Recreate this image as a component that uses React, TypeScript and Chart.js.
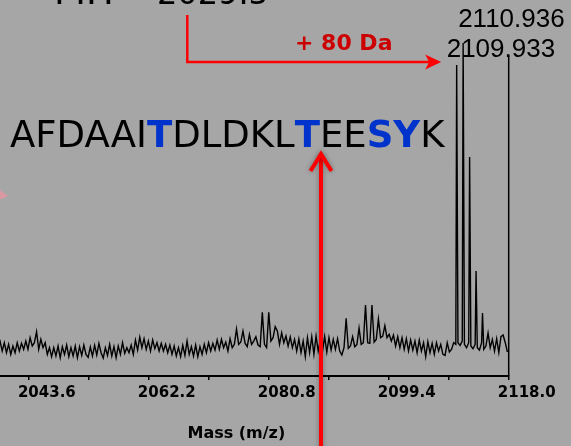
import React, { useEffect, useRef } from "react";
import { Chart, registerables } from "chart.js";

Chart.register(...registerables);

// ---------- data ----------
const X_MIN = 2033.55;
const X_MAX = 2118.0;
const Y_MAX = 100;
const MAJOR_TICKS = [2043.6, 2062.2, 2080.8, 2099.4, 2118.0];
const MINOR_TICKS = [2034.3, 2052.9, 2071.5, 2090.1, 2108.7];

// background spectrum sampled every 1/3 Da starting at 2038.8
const NOISE_MZ_START = 2038.8;
const NOISE_MZ_STEP = 1 / 3;
const NOISE = [
  9.5,
  10.5, 7.5, 10, 7, 9.5, 6.5, 9, 7, 10, 7.5, 9.8, 8,
  10.5, 8, 11.5, 9, 10, 13.3, 8, 11, 8.5, 10, 6.5, 8.5,
  5.8, 8.5, 6, 9, 5.5, 8.8, 6.5, 9.3, 5.8, 8.5, 6, 9,
  5.5, 8.8, 6.2, 9.3, 6.5, 5.6, 8.7, 6, 9.2, 6.3, 9.8, 7,
  5.4, 8.5, 6.2, 9.5, 6, 8.8, 5.5, 9, 6.5, 10, 6.8, 8.5,
  7, 9.3, 6.5, 10.8, 7.8, 11.7, 8.5, 11.2, 8, 10.5, 7.5, 10.8,
  8.2, 10, 7.5, 9.8, 7.5, 9.5, 7, 9.3, 6.5, 9, 6, 8.5,
  5.8, 9.2, 6.2, 10.5, 6.5, 8.8, 6, 9.3, 5.8, 8.8, 6.5, 9.5,
  7, 10, 7.5, 9.8, 7.8, 10.8, 8, 11, 8.5, 10.2, 7.5, 11.2,
  8.5, 9.5, 14.1, 9.5, 10.2, 13.5, 9.8, 8.8, 12.5, 9.5, 10.5, 11.8,
  9.3, 8.8, 19.1, 9.5, 8.5, 19.1, 10.5, 11.5, 14.8, 13.5, 9.5, 13,
  10, 12, 9, 11.7, 8.5, 11, 7.5, 11.1, 7, 10.5, 5.8, 11.5,
  7, 11.8, 6.5, 12, 7.5, 11, 7.5, 11.8, 7.2, 11.5, 7.8, 11,
  8, 11.2, 7.5, 6.3, 8.5, 17.3, 8.3, 9, 11.8, 8.8, 9.5, 14.4,
  9.5, 10, 21.3, 10, 9.8, 21.3, 10.2, 11, 17.1, 11.5, 12, 15.1,
  11.5, 12.5, 10.5, 12.3, 9, 11.8, 8.5, 11.5, 8, 11.2, 7.5, 10.8,
  7.8, 10.5, 7, 10.8, 7.5, 10, 5.8, 10.3, 7, 9.8, 6.5, 10,
  7.5, 9.5, 6.5, 6.2, 10, 7.2, 8, 10, 9.5, 10, 9.2, 10.5,
  9.5, 8.5, 10, 9, 8.2, 9.5, 8.5, 7.8, 10, 8, 9, 12.9,
  8.5, 11, 7.5, 11.2, 7, 11.8, 12.3, 10, 7.2,
];

// isotope envelope of the phosphopeptide
const PEAK_MZ = [2109.933, 2110.936, 2111.94, 2112.94, 2113.94];
const PEAK_INT = [93.4, 100, 65.8, 31.5, 18.9];
const PEAK_LABELS = ["2109.933", "2110.936"];
const FRAME_TOP = 96.4;

const SEQ_PARTS = ["AFDAAI", "T", "DLDKL", "T", "EE", "SY", "K"];
const SEQ_MOD = [false, true, false, true, false, true, false];
const PARENT_LABEL = "MH\u207A =";
const PARENT_MASS = "2029.5";
const SHIFT_LABEL = "+ 80 Da";
const X_TITLE = "Mass (m/z)";

// ---------- styles ----------
const BG = "#a6a6a6";
const BLUE = "#0033cc";
const RED = "#ff0000";
const DARK_RED = "#cc0000";
const SHIFT = 36; // canvas is shifted left by this many px (cropped plot)
const CW = 607;
const CH = 446;

function buildPoints() {
  const pts: { x: number; y: number }[] = [];
  NOISE.forEach((v, i) => pts.push({ x: NOISE_MZ_START + i * NOISE_MZ_STEP, y: v }));
  PEAK_MZ.forEach((m, i) => pts.push({ x: m, y: PEAK_INT[i] }));
  pts.sort((a, b) => a.x - b.x);
  return pts;
}

const bgPlugin = {
  id: "bgFill",
  beforeDraw(chart: any) {
    const { ctx, width, height } = chart;
    ctx.save();
    ctx.fillStyle = BG;
    ctx.fillRect(0, 0, width, height);
    ctx.restore();
  },
};

const annotPlugin = {
  id: "annotations",
  afterDraw(chart: any) {
    const { ctx } = chart;
    const xs = chart.scales.x;
    const ys = chart.scales.y;
    const S = SHIFT;
    ctx.save();

    // right frame line
    const xr = xs.getPixelForValue(X_MAX);
    ctx.strokeStyle = "#000";
    ctx.lineWidth = 1.5;
    ctx.beginPath();
    ctx.moveTo(xr, ys.getPixelForValue(FRAME_TOP));
    ctx.lineTo(xr, ys.getPixelForValue(0));
    ctx.stroke();

    // peak labels
    const p1 = xs.getPixelForValue(PEAK_MZ[0]);
    const p2 = xs.getPixelForValue(PEAK_MZ[1]);
    ctx.fillStyle = "#000";
    ctx.textAlign = "left";
    ctx.textBaseline = "alphabetic";
    ctx.font = '26px "Liberation Sans"';
    ctx.fillText(PEAK_LABELS[1], p2 - 5, 27);
    ctx.fillText(PEAK_LABELS[0], p1 - 10, 57);

    // parent ion (cropped at top)
    ctx.font = '37px "DejaVu Sans"';
    ctx.fillText(PARENT_LABEL, 54 + S, 4);
    ctx.font = '32px "DejaVu Sans"';
    ctx.fillText(PARENT_MASS, 157 + S, 4);

    // peptide sequence
    let x = 10 + S;
    SEQ_PARTS.forEach((part, i) => {
      ctx.font = (SEQ_MOD[i] ? "bold " : "") + '37px "DejaVu Sans"';
      ctx.fillStyle = SEQ_MOD[i] ? BLUE : "#000";
      ctx.fillText(part, x, 147);
      x += ctx.measureText(part).width;
    });

    // +80 Da label
    ctx.font = 'bold 22px "DejaVu Sans"';
    ctx.fillStyle = DARK_RED;
    ctx.fillText(SHIFT_LABEL, 295 + S, 50);

    // elbow arrow to the phospho peak
    const tip = p1 - 15.5;
    ctx.strokeStyle = RED;
    ctx.lineWidth = 2.5;
    ctx.lineJoin = "miter";
    ctx.beginPath();
    ctx.moveTo(187.3 + S, 15);
    ctx.lineTo(187.3 + S, 62);
    ctx.lineTo(tip - 12, 62);
    ctx.stroke();
    ctx.fillStyle = RED;
    ctx.beginPath();
    ctx.moveTo(tip, 62);
    ctx.lineTo(tip - 16, 54.5);
    ctx.lineTo(tip - 12, 62);
    ctx.lineTo(tip - 16, 69.5);
    ctx.closePath();
    ctx.fill();

    // faint arrow tip at left edge
    ctx.fillStyle = "rgba(225,150,160,0.85)";
    ctx.beginPath();
    ctx.moveTo(S - 8, 184);
    ctx.lineTo(S + 8, 196);
    ctx.lineTo(S - 8, 203);
    ctx.closePath();
    ctx.fill();

    // upward arrow to the phosphorylated T
    ctx.shadowColor = "rgba(0,0,0,0.35)";
    ctx.shadowBlur = 5;
    ctx.strokeStyle = RED;
    ctx.lineWidth = 4;
    ctx.beginPath();
    ctx.moveTo(321 + S, CH + 5);
    ctx.lineTo(321 + S, 155);
    ctx.stroke();
    ctx.beginPath();
    ctx.moveTo(310.5 + S, 171);
    ctx.lineTo(321 + S, 154);
    ctx.lineTo(331.5 + S, 171);
    ctx.stroke();

    ctx.restore();
  },
};

export default function App() {
  const ref = useRef<HTMLCanvasElement | null>(null);

  useEffect(() => {
    document.body.style.margin = "0";
    document.body.style.background = BG;
    if (!ref.current) return;
    const chart = new Chart(ref.current, {
      type: "line",
      data: {
        datasets: [
          {
            data: buildPoints(),
            borderColor: "#000",
            borderWidth: 1.4,
            pointRadius: 0,
            tension: 0,
            fill: false,
          },
        ],
      },
      options: {
        responsive: false,
        animation: false,
        devicePixelRatio: 1,
        parsing: false,
        layout: { padding: { top: 43, right: CW - 544.7, left: 0, bottom: 0 } },
        plugins: { legend: { display: false }, tooltip: { enabled: false } },
        scales: {
          x: {
            type: "linear",
            min: X_MIN,
            max: X_MAX,
            afterBuildTicks: (scale: any) => {
              scale.ticks = [...MAJOR_TICKS, ...MINOR_TICKS]
                .sort((a, b) => a - b)
                .map((v) => ({ value: v }));
            },
            afterFit: (scale: any) => {
              scale.height = 70;
            },
            grid: {
              display: true,
              drawOnChartArea: false,
              drawTicks: true,
              tickLength: 4,
              tickColor: "#000",
              lineWidth: 1.5,
            },
            border: { display: true, color: "#000", width: 2 },
            ticks: {
              autoSkip: false,
              maxRotation: 0,
              minRotation: 0,
              labelOffset: 18,
              padding: 4,
              color: "#000",
              font: { family: "DejaVu Sans", weight: "bold", size: 15 },
              callback: (v: any) =>
                MAJOR_TICKS.some((t) => Math.abs(t - Number(v)) < 1e-6)
                  ? Number(v).toFixed(1)
                  : "",
            },
            title: {
              display: true,
              text: X_TITLE,
              color: "#000",
              font: { family: "DejaVu Sans", weight: "bold", size: 16 },
              padding: { top: 0, bottom: 3 },
            },
          },
          y: { display: false, min: 0, max: Y_MAX },
        },
      },
      plugins: [bgPlugin, annotPlugin],
    });
    return () => chart.destroy();
  }, []);

  return (
    <div
      style={{
        position: "relative",
        width: 571,
        height: 446,
        overflow: "hidden",
        background: BG,
      }}
    >
      <canvas
        ref={ref}
        width={CW}
        height={CH}
        style={{ position: "absolute", left: -SHIFT, top: 0, width: CW, height: CH }}
      />
    </div>
  );
}
